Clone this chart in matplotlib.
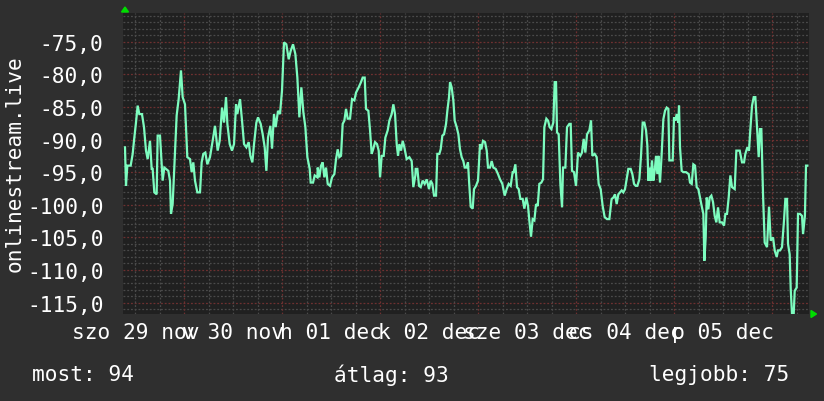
import matplotlib
matplotlib.use("Agg")
from matplotlib import pyplot as plt
from matplotlib.patches import Polygon
from matplotlib.ticker import FuncFormatter

# hours since szo 29 nov 00:00, one week window
hours = [
    9.49, 9.73, 10.06, 10.88, 11.37, 11.69, 12.18, 12.59, 13.0, 13.65, 14.14, 14.63, 15.04, 15.61,
    16.02, 16.26, 16.67, 17.24, 17.49, 18.06, 18.71, 19.12, 20.1, 20.51, 20.75, 21.16, 21.57,
    22.14, 22.63, 23.2, 23.61, 24.18, 24.75, 25.41, 25.82, 26.22, 26.63, 27.2, 27.86, 28.26,
    28.67, 29.16, 29.65, 30.3, 30.96, 31.53, 32.18,
    32.68, 33.25, 33.74, 34.23, 34.56, 35.13, 35.7, 36.19, 36.68, 37.0, 37.66, 38.15, 38.64,
    39.21, 39.78, 40.19, 40.68, 41.09, 41.66, 42.07, 42.72, 43.21, 43.7, 44.11, 44.51, 45.09,
    45.5, 45.98, 46.39, 46.96, 47.45, 47.94, 48.43, 49.0, 49.58, 50.07, 50.64, 51.21, 51.7,
    52.19, 52.68, 53.17, 53.66, 54.15, 54.72, 54.96, 55.54, 55.95, 56.6,
    56.68, 57.09, 57.5, 57.9, 58.31, 58.72, 59.13, 59.7, 60.19, 60.76, 61.17, 61.58, 61.98,
    62.39, 62.8, 63.21, 63.62, 64.03, 64.6, 65.09, 65.66, 66.07, 66.72, 67.29, 67.7, 68.19,
    68.51, 69.09, 69.5, 69.9, 70.31, 70.72, 71.21, 71.62, 71.95, 72.35, 72.84, 73.25, 73.82,
    74.23, 74.8, 75.21, 75.62, 76.03, 76.35, 76.68, 77.09, 77.5, 77.9, 78.47, 79.13, 79.7,
    80.1, 80.6,
    80.68, 81.09, 81.49, 81.9, 82.39, 82.88, 83.37, 83.94, 84.35, 84.76, 85.17, 85.66, 85.98,
    86.47, 86.8, 87.21, 87.62, 88.11, 88.43, 88.84, 89.09, 89.49, 89.9, 90.23, 90.72, 91.13,
    91.53, 91.94, 92.35, 92.68, 93.09, 93.49, 93.74, 94.15, 94.64, 94.96, 95.45, 95.94, 96.43,
    96.76, 97.17, 97.66, 98.07, 98.39, 98.88, 99.29, 99.7, 100.27, 100.84, 101.33, 101.9,
    102.47, 102.96, 103.45, 103.94, 104.43,
    104.68, 105.09, 105.49, 105.9, 106.31, 106.88, 107.29, 107.78, 108.19, 108.51, 108.92,
    109.33, 109.74, 110.15, 110.56, 110.96, 111.45, 111.86, 112.19, 112.68, 113.09, 113.49,
    113.9, 114.39, 114.72, 115.05, 115.29, 115.7, 116.11, 116.52, 116.76, 117.33, 117.74,
    118.31, 118.64, 118.96, 119.45, 119.94, 120.43, 121.0, 121.41, 121.82, 122.23, 122.64,
    123.21, 123.62, 123.94, 124.51, 125.0, 125.49, 125.98, 126.47, 126.96, 127.54, 128.11, 128.6,
    128.68, 129.09, 129.49, 129.9, 130.31, 130.72, 131.13, 131.53, 131.94, 132.35, 132.76,
    133.33, 133.74, 134.15, 134.56, 134.96, 135.45, 135.86, 136.27, 136.68, 137.09, 137.41,
    137.66, 137.9, 138.23, 138.56, 138.88, 139.21, 139.54, 139.86, 140.11, 140.51, 140.92,
    141.33, 141.74, 142.15, 142.56, 142.8, 143.21, 143.62, 143.94, 144.27, 144.6, 145.0,
    145.17, 145.41, 145.82, 146.23, 146.88, 147.54, 147.86, 148.27, 148.68, 149.09, 149.49,
    149.9, 150.31, 150.72, 151.13, 151.37, 151.7, 151.94, 152.35,
    152.68, 153.09, 153.5, 153.9, 154.31, 154.72, 155.13, 155.7, 156.19, 156.52, 156.92,
    157.33, 157.74, 158.15, 158.8, 159.21, 159.62, 160.03, 160.6, 161.09, 161.41, 161.9,
    162.31, 162.64, 163.05, 163.46, 163.86, 164.27, 164.68, 165.0, 165.33, 165.74, 166.15,
    166.72, 167.21, 167.62, 168.19, 168.6, 169.09, 169.42, 169.9, 170.39, 170.88, 171.21,
    171.62, 171.86, 172.27, 172.52, 172.84, 173.25, 173.5, 173.98, 174.31, 174.8, 175.29,
    175.54, 176.0, 176.27, 176.6,
]
values = [
    -91.2, -97.1, -94.0, -94.0, -92.2, -90.2, -87.4, -84.8, -86.1, -86.1, -88.1, -91.7, -93.0, -90.2,
    -94.5, -94.5, -98.1, -98.4, -89.4, -89.4, -96.3, -94.3, -94.8, -96.3, -101.4, -99.9, -94.3,
    -86.3, -83.8, -79.4, -83.5, -84.6, -92.7, -93.0, -95.0, -93.5, -96.3, -98.1, -98.1, -93.5,
    -92.2, -92.0, -93.8, -92.7, -90.2, -87.9, -91.7,
    -90.2, -85.1, -87.4, -83.5, -87.6, -90.7, -91.7, -90.7, -84.6, -86.1, -83.8, -87.1, -90.7,
    -91.2, -90.4, -92.5, -93.5, -90.7, -87.4, -86.6, -87.6, -89.2, -91.2, -94.8, -89.7, -87.9,
    -91.4, -86.1, -88.1, -85.6, -86.1, -82.5, -75.1, -75.4, -77.7, -76.4, -75.4, -76.9, -80.5,
    -86.6, -82.0, -85.8, -88.1, -92.7, -94.5, -96.6, -96.6, -95.5, -95.8,
    -94.3, -95.8, -94.0, -93.5, -95.8, -94.3, -96.8, -97.1, -95.8, -95.3, -93.0, -91.5, -92.7,
    -92.5, -87.6, -87.1, -85.3, -86.8, -86.8, -83.8, -84.0, -82.8, -82.0, -81.2, -80.5, -80.5,
    -85.3, -85.6, -88.6, -92.2, -91.4, -90.4, -90.7, -91.7, -95.8, -92.5, -92.5, -89.7, -88.6,
    -87.1, -86.1, -84.6, -86.1, -90.7, -92.5, -90.7, -91.7, -90.2, -91.2, -93.0, -92.7, -93.3,
    -97.3, -95.5,
    -94.5, -94.5, -97.1, -97.3, -96.3, -96.8, -96.1, -97.6, -96.3, -96.8, -98.6, -98.6, -92.2,
    -92.2, -91.5, -89.4, -89.2, -87.6, -85.6, -83.5, -81.2, -82.0, -84.0, -87.1, -88.1, -89.2,
    -91.5, -92.7, -93.3, -94.3, -94.3, -93.5, -96.3, -100.3, -100.6, -97.6, -97.1, -96.3, -90.7,
    -91.5, -90.2, -90.4, -91.7, -94.3, -94.3, -93.3, -94.3, -94.5, -95.3, -96.1, -96.8,
    -98.6, -97.6, -96.8, -97.1, -95.0,
    -95.0, -93.8, -97.3, -97.6, -99.1, -99.1, -100.6, -98.9, -100.2, -102.4, -104.9,
    -102.2, -102.4, -99.9, -100.2, -96.8, -96.6, -96.1, -88.1, -86.8, -87.1, -88.1,
    -88.4, -87.4, -81.2, -81.2, -88.9, -89.2, -96.8, -100.4, -94.3, -94.3, -88.1,
    -87.6, -87.6, -94.8, -95.0, -97.1, -92.0, -92.5, -92.0, -89.9, -92.0, -89.2,
    -88.6, -87.1, -92.5, -92.2, -92.7, -96.8, -97.6, -100.2, -101.9, -102.2, -102.2, -99.4,
    -99.1, -98.9, -98.4, -99.9, -98.4, -98.1, -97.8, -98.1, -97.6, -96.1, -94.5,
    -94.5, -95.3, -96.8, -97.1, -97.1, -96.1, -92.5, -87.4, -87.4, -88.6, -90.9,
    -96.3, -94.3, -96.3, -93.2, -96.3, -94.8, -92.5, -95.3, -92.5, -96.6, -92.2,
    -86.9, -85.6, -85.1, -85.3, -93.2, -93.2, -93.2, -86.6, -87.1, -86.1, -87.4,
    -84.8, -91.2, -94.8, -95.0, -95.0, -95.3, -96.6, -96.8, -93.8, -94.0, -97.3,
    -97.6, -98.9, -100.2, -101.4, -108.6, -105.0, -98.9, -100.7,
    -98.9, -98.6, -99.6, -101.7, -102.7, -100.4, -102.7, -102.7, -103.2, -101.4, -101.4,
    -98.9, -95.5, -97.3, -97.6, -91.7, -91.7, -91.7, -93.5, -93.5, -92.2, -91.2,
    -91.7, -88.4, -84.8, -83.5, -83.5, -88.1, -92.7, -88.4, -88.4, -98.4, -105.8,
    -106.5, -100.3, -105.5, -105.0, -107.0, -108.0, -107.0, -107.0, -106.5, -102.4, -99.1,
    -99.1, -106.0, -107.6, -112.9, -116.8, -116.8, -113.2, -112.7, -101.4, -101.4, -101.7,
    -104.5, -101.7, -94.0, -94.0,
]

day_labels = ["szo 29 nov", "v 30 nov", "h 01 dec", "k 02 dec", "sze 03 dec", "cs 04 dec", "p 05 dec"]
y_ticks = [-115, -110, -105, -100, -95, -90, -85, -80, -75]
series_name = "onlinestream.live"
summary = ["most: 94", "átlag: 93", "legjobb: 75"]

W, H = 824, 402
bg = "#2f2f2f"
plot_bg = "#202020"
fg = "#ffffff"
font = "DejaVu Sans Mono"
fs = 15.2

fig = plt.figure(figsize=(W / 100, H / 100), dpi=100, facecolor=bg)
ax = fig.add_axes([123 / W, (H - 315) / H, 686 / W, 301 / H])
ax.set_facecolor(plot_bg)
for s in ax.spines.values():
    s.set_visible(False)

ax.set_xlim(9, 177)
ax.set_ylim(-116.75, -70.6)

# grid: minor every 1 unit / 6 hours, major every 5 units / day
for v in range(-116, -70):
    major = v % 5 == 0
    ax.axhline(v, color="#6e3030" if major else "#4a4a4a", lw=0.9,
               ls=(0, (1.5, 1.5)), zorder=1)
for h in range(12, 177, 6):
    major = h % 24 == 0
    ax.axvline(h, color="#6e3030" if major else "#4a4a4a", lw=0.9,
               ls=(0, (1.5, 1.5)), zorder=1)

ax.plot(hours, values, color="#7dfcbf", lw=1.6, zorder=3, solid_joinstyle="miter")

ax.set_yticks(y_ticks)
ax.yaxis.set_major_formatter(FuncFormatter(lambda v, p: f"{v:.1f}".replace(".", ",")))
ax.set_xticks([12 + 24 * i for i in range(len(day_labels))])
ax.set_xticklabels(day_labels)
ax.tick_params(length=0, colors=fg, labelsize=fs)
ax.tick_params(axis="y", pad=14)
ax.tick_params(axis="x", pad=6)
for lab in ax.get_xticklabels() + ax.get_yticklabels():
    lab.set_fontfamily(font)

fig.text(15 / W, 1 - 164 / H, series_name, rotation=90, ha="center", va="center",
         color=fg, fontsize=fs, fontfamily=font)

for x0, txt in zip([32, 334, 649], summary):
    fig.text(x0 / W, 1 - 375 / H, txt, ha="left", va="center", color=fg,
             fontsize=fs, fontfamily=font)

# little green arrows at the axis ends
def px(x, y):
    return (x / W, 1 - y / H)

fig.patches.append(Polygon([px(121.5, 13), px(128.5, 13), px(125, 8)], closed=True,
                           transform=fig.transFigure, color="#00dd00", zorder=5))
fig.patches.append(Polygon([px(811, 311.5), px(811, 318.5), px(816.5, 315)], closed=True,
                           transform=fig.transFigure, color="#00dd00", zorder=5))

fig.savefig("out.png", dpi=100, facecolor=bg)
